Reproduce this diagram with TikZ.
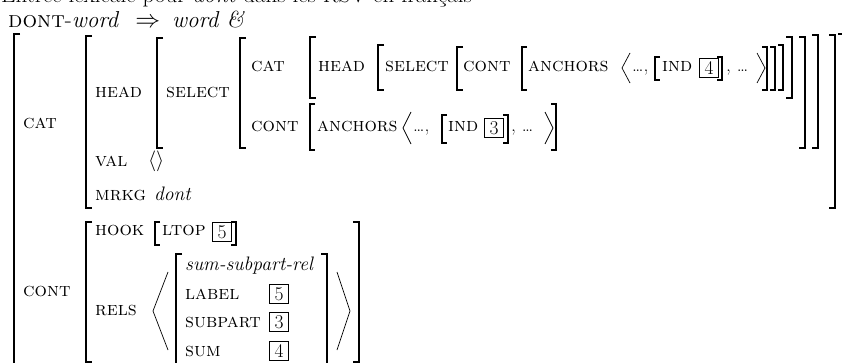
\documentclass[tikz,border=0pt]{standalone}
\newcommand{\avmsize}{\fontsize{19.5}{23}\selectfont}
\newcommand{\headsize}{\fontsize{23}{27}\selectfont}
\begin{document}
\begin{tikzpicture}[x=1pt, y=-1pt,
    every node/.style={inner sep=0pt, anchor=base west, font=\avmsize},
    heading/.style={font=\headsize},
    attr/.style={font=\avmsize\scshape},
    val/.style={font=\avmsize\itshape},
    tag/.style={draw, line width=0.6pt, minimum width=19pt, minimum height=19pt, anchor=center},
    brk/.style={line width=1.2pt},
    ang/.style={line width=0.7pt}
]
    \useasboundingbox (0,0) rectangle (842,363);
    \clip (0,0) rectangle (842,363);

    % Heading
    \node[heading] (title) at (1,3) {Entrée lexicale pour \textit{dont} dans les RSV en français};
    \node[heading] (rule) at (8,28) {\textsc{dont}-\textit{word}\hspace{16pt}$\Rightarrow$\hspace{12pt}\textit{word} \textit{\&}};

    % Outer matrix
    \draw[brk] (20,34) -| (14,380) -- (20,380);
    \draw[brk] (838,34) -| (844,380) -- (838,380);
    \node[attr] (cat) at (23,129) {cat};
    \node[attr] (cont) at (23,296) {cont};

    % CAT value
    \draw[brk] (92,36) -| (86,208) -- (92,208);
    \draw[brk] (829,35) -| (835,208) -- (829,208);
    \node[attr] (head) at (95,98) {head};
    \node[attr] (valattr) at (95,167) {val};
    \node (valval) at (148,167) {$\langle\rangle$};
    \node[attr] (mrkg) at (95,201) {mrkg};
    \node[val] (mrkgval) at (154,201) {dont};

    % HEAD value
    \draw[brk] (163,38) -| (157,148) -- (163,148);
    \draw[brk] (812,35) -| (818,148) -- (812,148);
    \node[attr] (select) at (166,98) {select};

    % SELECT value
    \draw[brk] (246,38) -| (240,148) -- (246,148);
    \draw[brk] (799,37) -| (805,148) -- (799,148);
    \node[attr] (scat) at (251,72) {cat};
    \node[attr] (scont) at (251,132) {cont};

    % first row: CAT of the selected word
    \draw[brk] (316,37) -| (310,98) -- (316,98);
    \draw[brk] (786,37) -| (792,98) -- (786,98);
    \node[attr] (shead) at (318,72) {head};
    \draw[brk] (384,45) -| (378,90) -- (384,90);
    \draw[brk] (778,45) -| (783,90) -- (778,90);
    \node[attr] (sselect) at (385,72) {select};
    \draw[brk] (463,47) -| (457,90) -- (463,90);
    \draw[brk] (770,47) -| (775,90) -- (770,90);
    \node[attr] (ccont) at (463,72) {cont};
    \draw[brk] (527,47) -| (522,90) -- (527,90);
    \draw[brk] (762,47) -| (767,90) -- (762,90);
    \node[attr] (anchA) at (528,72) {anchors};
    \draw[ang] (630,53) -- (622,68) -- (630,83);
    \node (dotsA1) at (632,72) {\ldots,};
    \draw[brk] (660,57) -| (655,80) -- (660,80);
    \node[attr] (indA) at (662,72) {ind};
    \node[tag] (tagA) at (709,68) {4};
    \draw[brk] (717,57) -| (722,80) -- (717,80);
    \node (dotsA2) at (726,72) {, \ldots};
    \draw[ang] (757,53) -- (765,68) -- (757,83);

    % second row: CONT of the selected word
    \draw[brk] (315,104) -| (310,150) -- (315,150);
    \draw[brk] (551,104) -| (556,150) -- (551,150);
    \node[attr] (anchB) at (317,132) {anchors};
    \draw[ang] (411,112) -- (403,128) -- (411,144);
    \node (dotsB1) at (413,132) {\ldots,};
    \draw[brk] (447,115) -| (442,143) -- (447,143);
    \node[attr] (indB) at (448,132) {ind};
    \node[tag] (tagB) at (494,128) {3};
    \draw[brk] (503,115) -| (508,143) -- (503,143);
    \node (dotsB2) at (511,132) {, \ldots};
    \draw[ang] (545,112) -- (553,128) -- (545,144);

    % CONT value
    \draw[brk] (92,222) -| (86,362) -- (92,362);
    \draw[brk] (353,222) -| (359,362) -- (353,362);
    \node[attr] (hook) at (95,235) {hook};
    \draw[brk] (160,222) -| (155,245) -- (160,245);
    \draw[brk] (231,222) -| (236,245) -- (231,245);
    \node[attr] (ltop) at (162,235) {ltop};
    \node[tag] (tagC) at (222,232) {5};
    \node[attr] (rels) at (95,315) {rels};

    % RELS list
    \draw[ang] (168,272) -- (153,311) -- (168,350);
    \draw[ang] (337,272) -- (350,311) -- (337,350);
    \draw[brk] (182,254) -| (176,380) -- (182,380);
    \draw[brk] (321,254) -| (327,380) -- (321,380);
    \node[val] (reltype) at (185,270) {sum-subpart-rel};
    \node[attr] (label) at (185,299) {label};
    \node[tag] (tagD) at (279,294) {5};
    \node[attr] (subpart) at (185,327) {subpart};
    \node[tag] (tagE) at (279,322) {3};
    \node[attr] (sum) at (185,356) {sum};
    \node[tag] (tagF) at (279,351) {4};
\end{tikzpicture}
\end{document}
